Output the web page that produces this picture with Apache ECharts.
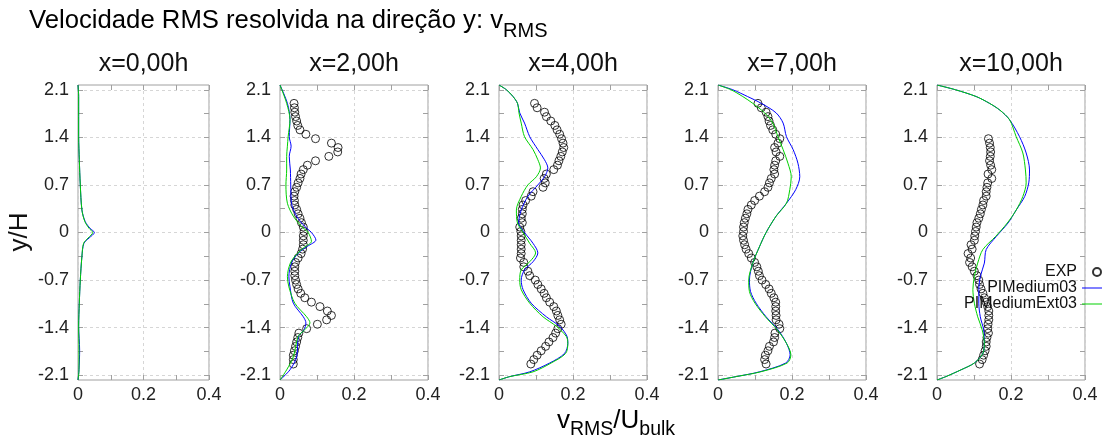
<!DOCTYPE html>
<html>
<head>
<meta charset="utf-8" />
<title>Velocidade RMS resolvida na direção y</title>
<script src="https://cdn.jsdelivr.net/npm/echarts@6.0.0/dist/echarts.min.js"></script>
<style>
  html, body { margin: 0; padding: 0; background: #fff; }
  #chart { width: 1102px; height: 441px; }
</style>
</head>
<body>
<div id="chart"></div>
<script>
// titulos dos paineis
var panelTitles = ['x=0,00h', 'x=2,00h', 'x=4,00h', 'x=7,00h', 'x=10,00h'];
var seriesNames = ['EXP', 'PIMedium03', 'PIMediumExt03'];

// ticks do eixo y
var yTicks = [-2.1, -1.4, -0.7, 0, 0.7, 1.4, 2.1];
var yMinor = [-1.75, -1.05, -0.35, 0.35, 1.05, 1.75];

// posicoes y dos pontos experimentais
var yExp = [1.900, 1.835, 1.770, 1.705, 1.640, 1.575, 1.510, 1.445, 1.380, 1.315,
  1.250, 1.185, 1.120, 1.055, 0.990, 0.925, 0.860, 0.795, 0.730, 0.665,
  0.600, 0.535, 0.470, 0.405, 0.340, 0.275, 0.210, 0.145, 0.080, 0.015,
  -0.050, -0.115, -0.180, -0.245, -0.310, -0.375, -0.440, -0.505, -0.570, -0.635,
  -0.700, -0.765, -0.830, -0.895, -0.960, -1.025, -1.090, -1.155, -1.220, -1.285,
  -1.350, -1.415, -1.480, -1.545, -1.610, -1.675, -1.740, -1.805, -1.870, -1.935];

// EXP (vRMS/Ubulk) em cada estacao
var exp2 = [0.038, 0.039, 0.040, 0.042, 0.045, 0.048, 0.054, 0.070, 0.096, 0.139,
  0.157, 0.156, 0.132, 0.096, 0.074, 0.063, 0.057, 0.054, 0.049, 0.045,
  0.040, 0.038, 0.039, 0.040, 0.045, 0.049, 0.054, 0.058, 0.063, 0.065,
  0.063, 0.063, 0.063, 0.061, 0.057, 0.049, 0.042, 0.040, 0.040, 0.040,
  0.042, 0.045, 0.049, 0.056, 0.067, 0.085, 0.108, 0.128, 0.139, 0.126,
  0.101, 0.072, 0.051, 0.048, 0.045, 0.042, 0.039, 0.036, 0.036, 0.036];
var exp3 = [0.096, 0.103, 0.123, 0.128, 0.140, 0.151, 0.157, 0.164, 0.169, 0.173,
  0.175, 0.171, 0.167, 0.162, 0.158, 0.148, 0.128, 0.122, 0.125, 0.119,
  0.092, 0.087, 0.072, 0.065, 0.063, 0.063, 0.060, 0.063, 0.056, 0.059,
  0.060, 0.060, 0.060, 0.060, 0.060, 0.058, 0.067, 0.067, 0.078, 0.083,
  0.098, 0.105, 0.114, 0.122, 0.128, 0.137, 0.148, 0.155, 0.159, 0.164,
  0.168, 0.159, 0.153, 0.146, 0.135, 0.126, 0.114, 0.103, 0.094, 0.086];
var exp4 = [0.108, 0.117, 0.130, 0.135, 0.138, 0.142, 0.148, 0.156, 0.167, 0.162,
  0.153, 0.157, 0.167, 0.156, 0.153, 0.151, 0.153, 0.144, 0.139, 0.135,
  0.126, 0.112, 0.099, 0.090, 0.081, 0.078, 0.074, 0.071, 0.069, 0.069,
  0.067, 0.069, 0.072, 0.076, 0.083, 0.090, 0.099, 0.105, 0.109, 0.112,
  0.119, 0.129, 0.138, 0.144, 0.151, 0.156, 0.156, 0.156, 0.157, 0.157,
  0.165, 0.167, 0.154, 0.153, 0.150, 0.139, 0.135, 0.128, 0.126, 0.130];
var exp5 = [null, null, null, null, null, null, null, null, 0.139, 0.142,
  0.144, 0.145, 0.144, 0.142, 0.145, 0.148, 0.138, 0.148, 0.137, 0.135,
  0.133, 0.133, 0.126, 0.124, 0.120, 0.117, 0.113, 0.108, 0.106, 0.104,
  0.102, 0.101, 0.092, 0.095, 0.084, 0.091, 0.088, 0.095, 0.101, 0.108,
  0.113, 0.115, 0.119, 0.124, 0.128, 0.133, 0.137, 0.140, 0.140, 0.140,
  0.138, 0.137, 0.139, 0.135, 0.133, 0.133, 0.130, 0.126, 0.122, 0.115];

// PIMedium03 (azul) e PIMediumExt03 (verde): [vRMS/Ubulk, y/H]
var blue1 = [[0, 2.17], [0.002, 2.0], [0.002, 1.41], [0.004, 1.07], [0.007, 0.7], [0.012, 0.33],
  [0.022, 0.16], [0.037, 0.06], [0.05, 0], [0.034, -0.08], [0.018, -0.16], [0.012, -0.35],
  [0.007, -0.7], [0.004, -1.04], [0.002, -1.38], [0.005, -1.73], [0.003, -2.02], [0, -2.17]];
var green1 = [[0, 2.17], [0.002, 2.0], [0.002, 1.41], [0.004, 1.07], [0.007, 0.7], [0.012, 0.33],
  [0.021, 0.16], [0.034, 0.06], [0.045, 0], [0.031, -0.08], [0.017, -0.16], [0.012, -0.35],
  [0.007, -0.7], [0.004, -1.04], [0.002, -1.38], [0.003, -1.73], [0.003, -2.02], [0, -2.17]];

var blue2 = [[0, 2.17], [0.02, 1.9], [0.027, 1.66], [0.025, 1.41], [0.03, 1.27], [0.025, 1.12],
  [0.028, 0.92], [0.029, 0.7], [0.031, 0.43], [0.045, 0.24], [0.067, 0.09], [0.085, 0],
  [0.097, -0.11], [0.075, -0.2], [0.05, -0.3], [0.031, -0.45], [0.024, -0.65], [0.027, -0.8],
  [0.036, -1.04], [0.063, -1.24], [0.07, -1.33], [0.065, -1.43], [0.05, -1.53], [0.045, -1.83],
  [0.027, -2.02], [0, -2.17]];
var green2 = [[0, 2.17], [0.018, 1.9], [0.027, 1.66], [0.022, 1.41], [0.02, 1.27], [0.018, 1.12],
  [0.018, 0.92], [0.016, 0.7], [0.02, 0.43], [0.036, 0.24], [0.058, 0.09], [0.076, 0],
  [0.085, -0.13], [0.065, -0.22], [0.045, -0.32], [0.028, -0.45], [0.02, -0.65], [0.024, -0.8],
  [0.04, -1.04], [0.072, -1.24], [0.081, -1.33], [0.067, -1.43], [0.049, -1.53], [0.036, -1.83],
  [0.018, -2.02], [0, -2.17]];

var blue3 = [[0, 2.17], [0.02, 2.1], [0.038, 2.0], [0.05, 1.9], [0.056, 1.76], [0.069, 1.61],
  [0.083, 1.41], [0.105, 1.22], [0.123, 1.07], [0.132, 0.95], [0.123, 0.82], [0.105, 0.7],
  [0.078, 0.53], [0.06, 0.33], [0.053, 0.14], [0.069, 0], [0.092, -0.16], [0.105, -0.3],
  [0.092, -0.43], [0.069, -0.55], [0.06, -0.7], [0.065, -0.84], [0.087, -1.04], [0.128, -1.24],
  [0.164, -1.38], [0.184, -1.53], [0.186, -1.63], [0.177, -1.78], [0.137, -1.92], [0.083, -2.05],
  [0.029, -2.12], [0, -2.17]];
var green3 = [[0, 2.17], [0.02, 2.1], [0.038, 2.0], [0.05, 1.9], [0.054, 1.76], [0.06, 1.61],
  [0.069, 1.41], [0.092, 1.22], [0.105, 1.07], [0.112, 0.95], [0.101, 0.82], [0.078, 0.7],
  [0.06, 0.53], [0.047, 0.33], [0.05, 0.14], [0.065, 0], [0.083, -0.16], [0.099, -0.3],
  [0.083, -0.43], [0.06, -0.55], [0.056, -0.7], [0.06, -0.84], [0.083, -1.04], [0.119, -1.24],
  [0.155, -1.38], [0.182, -1.53], [0.186, -1.63], [0.18, -1.78], [0.141, -1.92], [0.092, -2.05],
  [0.029, -2.12], [0, -2.17]];

var blue4 = [[0, 2.17], [0.04, 2.1], [0.08, 2.0], [0.117, 1.9], [0.157, 1.76], [0.176, 1.61],
  [0.185, 1.41], [0.203, 1.22], [0.216, 1.02], [0.221, 0.82], [0.21, 0.63], [0.185, 0.43],
  [0.157, 0.24], [0.13, 0], [0.112, -0.21], [0.094, -0.45], [0.085, -0.7], [0.088, -0.87],
  [0.103, -1.04], [0.13, -1.24], [0.162, -1.43], [0.185, -1.63], [0.195, -1.8], [0.183, -1.92],
  [0.112, -2.05], [0.049, -2.12], [0, -2.17]];
var green4 = [[0, 2.17], [0.035, 2.1], [0.067, 2.0], [0.094, 1.9], [0.126, 1.76], [0.148, 1.61],
  [0.162, 1.41], [0.176, 1.22], [0.189, 1.02], [0.198, 0.82], [0.194, 0.63], [0.185, 0.43],
  [0.157, 0.24], [0.13, 0], [0.112, -0.21], [0.094, -0.45], [0.083, -0.7], [0.085, -0.87],
  [0.1, -1.04], [0.128, -1.24], [0.16, -1.43], [0.185, -1.63], [0.197, -1.8], [0.187, -1.92],
  [0.115, -2.05], [0.049, -2.12], [0, -2.17]];

var blue5 = [[0, 2.17], [0.05, 2.1], [0.106, 2.0], [0.142, 1.9], [0.17, 1.8], [0.196, 1.66],
  [0.223, 1.41], [0.241, 1.17], [0.25, 0.92], [0.248, 0.73], [0.237, 0.53], [0.214, 0.33],
  [0.192, 0.14], [0.16, -0.06], [0.133, -0.25], [0.128, -0.45], [0.117, -0.65], [0.113, -0.84],
  [0.113, -1.04], [0.117, -1.24], [0.126, -1.43], [0.128, -1.63], [0.124, -1.78], [0.101, -1.92],
  [0.065, -2.02], [0.024, -2.12], [0, -2.17]];
var green5 = [[0, 2.17], [0.05, 2.1], [0.106, 2.0], [0.142, 1.9], [0.17, 1.8], [0.196, 1.66],
  [0.214, 1.41], [0.232, 1.17], [0.239, 0.92], [0.241, 0.73], [0.232, 0.53], [0.214, 0.33],
  [0.19, 0.14], [0.158, -0.06], [0.124, -0.25], [0.11, -0.45], [0.101, -0.65], [0.097, -0.84],
  [0.101, -1.04], [0.11, -1.24], [0.122, -1.43], [0.128, -1.63], [0.124, -1.78], [0.101, -1.92],
  [0.065, -2.02], [0.024, -2.12], [0, -2.17]];

var expCols = [null, exp2, exp3, exp4, exp5];
var blueCols = [blue1, blue2, blue3, blue4, blue5];
var greenCols = [green1, green2, green3, green4, green5];

// layout
var panelLeft = [78, 280, 499, 718, 937];
var panelWidth = [131, 148, 148, 148, 148];
var plotTop = 85, plotHeight = 295;
var font = '"Liberation Sans", Arial, sans-serif';
var borderColor = '#a0a0a0';
var gridLineColor = '#d6d6d6';
var blue = '#0000ff', green = '#00d000';

var chart = echarts.init(document.getElementById('chart'));

var grids = [], xAxes = [], yAxes = [], series = [], graphics = [];

panelTitles.forEach(function (t, i) {
  grids.push({
    left: panelLeft[i], top: plotTop, width: panelWidth[i], height: plotHeight,
    show: true, borderColor: borderColor, borderWidth: 1, backgroundColor: 'transparent',
    containLabel: false, outerBoundsMode: 'none'
  });
  var tick = { show: true, inside: true, length: 5, lineStyle: { color: borderColor } };
  var minor = { show: true, splitNumber: 2, length: 5, lineStyle: { color: borderColor } };
  var noLine = { show: false, onZero: false };
  xAxes.push({
    gridIndex: i, type: 'value', position: 'bottom', min: 0, max: 0.4, interval: 0.2,
    axisLine: noLine, axisTick: tick, minorTick: minor,
    axisLabel: { fontSize: 18, color: '#222', margin: 6, fontFamily: font },
    splitLine: { show: true, lineStyle: { color: gridLineColor, type: [3, 3] } }
  });
  xAxes.push({
    gridIndex: i, type: 'value', position: 'top', min: 0, max: 0.4, interval: 0.2,
    axisLine: noLine, axisTick: tick, minorTick: minor,
    axisLabel: { show: false }, splitLine: { show: false }
  });
  yAxes.push({
    gridIndex: i, type: 'value', position: 'left', min: -2.17, max: 2.17,
    axisLine: noLine,
    axisTick: { show: true, inside: true, length: 5, customValues: yTicks, lineStyle: { color: borderColor } },
    axisLabel: { customValues: yTicks, fontSize: 18, color: '#222', margin: 9, fontFamily: font },
    splitLine: { show: true, lineStyle: { color: gridLineColor, type: [3, 3] } }
  });
  yAxes.push({
    gridIndex: i, type: 'value', position: 'left', min: -2.17, max: 2.17,
    axisLine: noLine,
    axisTick: { show: true, inside: true, length: 5, customValues: yMinor, lineStyle: { color: borderColor } },
    axisLabel: { show: false }, splitLine: { show: false }
  });
  yAxes.push({
    gridIndex: i, type: 'value', position: 'right', min: -2.17, max: 2.17,
    axisLine: noLine,
    axisTick: { show: true, inside: true, length: 5, customValues: yTicks.concat(yMinor), lineStyle: { color: borderColor } },
    axisLabel: { show: false }, splitLine: { show: false }
  });

  if (expCols[i]) {
    var pts = [];
    expCols[i].forEach(function (v, k) { if (v !== null) pts.push([v, yExp[k]]); });
    series.push({
      type: 'scatter', name: seriesNames[0], xAxisIndex: 2 * i, yAxisIndex: 3 * i,
      data: pts, symbol: 'circle', symbolSize: 8,
      itemStyle: { color: 'rgba(255,255,255,0)', borderColor: '#000', borderWidth: 1 }, z: 2
    });
  }
  series.push({
    type: 'line', name: seriesNames[1], xAxisIndex: 2 * i, yAxisIndex: 3 * i,
    data: blueCols[i], symbol: 'none', smooth: 0.3,
    itemStyle: { color: blue }, lineStyle: { color: blue, width: 1 }, z: 3
  });
  series.push({
    type: 'line', name: seriesNames[2], xAxisIndex: 2 * i, yAxisIndex: 3 * i,
    data: greenCols[i], symbol: 'none', smooth: 0.3,
    itemStyle: { color: green }, lineStyle: { color: green, width: 1 }, z: 3
  });

  graphics.push({
    type: 'text', x: panelLeft[i] + panelWidth[i] / 2, y: 64,
    style: { text: t, font: '25px ' + font, fill: '#111', align: 'center', verticalAlign: 'middle' }
  });
});

// titulo principal
graphics.push({
  type: 'text', x: 29, y: 8,
  style: {
    text: '{a|Velocidade RMS resolvida na direção y: v}{b|RMS}',
    verticalAlign: 'top',
    rich: {
      a: { fontSize: 25.7, fontFamily: font, color: '#111', verticalAlign: 'bottom', padding: [0, 0, 7, 0] },
      b: { fontSize: 20, fontFamily: font, color: '#111', verticalAlign: 'bottom' }
    }
  }
});
// nome do eixo x
graphics.push({
  type: 'text', x: 557, y: 408,
  style: {
    text: '{a|v}{b|RMS}{a|/U}{b|bulk}',
    verticalAlign: 'top',
    rich: {
      a: { fontSize: 26, fontFamily: font, color: '#111', verticalAlign: 'bottom', padding: [0, 0, 6, 0] },
      b: { fontSize: 19.5, fontFamily: font, color: '#111', verticalAlign: 'bottom' }
    }
  }
});
// nome do eixo y
graphics.push({
  type: 'text', x: 20, y: 232, rotation: Math.PI / 2,
  style: { text: 'y/H', font: '26px ' + font, fill: '#111', align: 'center', verticalAlign: 'middle' }
});

var lineIcon = 'path://M0,0H30V1H0Z';

chart.setOption({
  backgroundColor: '#fff',
  animation: false,
  grid: grids,
  xAxis: xAxes,
  yAxis: yAxes,
  series: series,
  graphic: graphics,
  legend: {
    orient: 'vertical', align: 'right', right: -15, top: 259,
    itemWidth: 30, itemHeight: 8, itemGap: 0, selectedMode: false,
    textStyle: { fontSize: 16, color: '#111', fontFamily: font },
    data: [
      { name: seriesNames[0] },
      { name: seriesNames[1], icon: lineIcon, itemStyle: { color: blue } },
      { name: seriesNames[2], icon: lineIcon, itemStyle: { color: green } }
    ]
  }
});
</script>
</body>
</html>
